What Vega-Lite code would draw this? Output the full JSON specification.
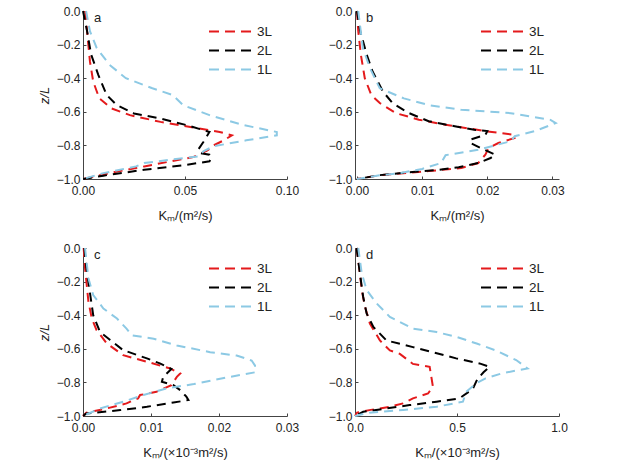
{
  "$schema": "https://vega.github.io/schema/vega-lite/v6.json",
  "padding": {"left": 38, "top": 5, "right": 5, "bottom": 5},
  "bounds": "flush",
  "columns": 2,
  "spacing": {"row": 69, "column": 68},
  "datasets": {
    "a": [
      {"s": "3L", "z": 0, "k": 0.001}, {"s": "3L", "z": -0.12, "k": 0.002}, {"s": "3L", "z": -0.3, "k": 0.0034},
      {"s": "3L", "z": -0.42, "k": 0.005}, {"s": "3L", "z": -0.52, "k": 0.008}, {"s": "3L", "z": -0.58, "k": 0.014},
      {"s": "3L", "z": -0.62, "k": 0.023}, {"s": "3L", "z": -0.66, "k": 0.038}, {"s": "3L", "z": -0.7, "k": 0.057},
      {"s": "3L", "z": -0.72, "k": 0.067}, {"s": "3L", "z": -0.74, "k": 0.073}, {"s": "3L", "z": -0.77, "k": 0.069},
      {"s": "3L", "z": -0.8, "k": 0.064}, {"s": "3L", "z": -0.83, "k": 0.061}, {"s": "3L", "z": -0.87, "k": 0.054},
      {"s": "3L", "z": -0.895, "k": 0.043}, {"s": "3L", "z": -0.925, "k": 0.03}, {"s": "3L", "z": -0.965, "k": 0.013},
      {"s": "3L", "z": -1, "k": 0},
      {"s": "2L", "z": 0, "k": 0}, {"s": "2L", "z": -0.12, "k": 0.002}, {"s": "2L", "z": -0.26, "k": 0.004},
      {"s": "2L", "z": -0.38, "k": 0.0075}, {"s": "2L", "z": -0.5, "k": 0.0116}, {"s": "2L", "z": -0.56, "k": 0.0165},
      {"s": "2L", "z": -0.61, "k": 0.025}, {"s": "2L", "z": -0.64, "k": 0.038}, {"s": "2L", "z": -0.68, "k": 0.051},
      {"s": "2L", "z": -0.72, "k": 0.062}, {"s": "2L", "z": -0.78, "k": 0.059}, {"s": "2L", "z": -0.825, "k": 0.0565},
      {"s": "2L", "z": -0.845, "k": 0.057}, {"s": "2L", "z": -0.855, "k": 0.062}, {"s": "2L", "z": -0.875, "k": 0.063},
      {"s": "2L", "z": -0.895, "k": 0.062}, {"s": "2L", "z": -0.915, "k": 0.051}, {"s": "2L", "z": -0.945, "k": 0.03},
      {"s": "2L", "z": -0.98, "k": 0.01}, {"s": "2L", "z": -1, "k": 0},
      {"s": "1L", "z": 0, "k": 0.0015}, {"s": "1L", "z": -0.12, "k": 0.0034}, {"s": "1L", "z": -0.22, "k": 0.0067},
      {"s": "1L", "z": -0.32, "k": 0.013}, {"s": "1L", "z": -0.4, "k": 0.021}, {"s": "1L", "z": -0.46, "k": 0.034},
      {"s": "1L", "z": -0.5, "k": 0.044}, {"s": "1L", "z": -0.56, "k": 0.049}, {"s": "1L", "z": -0.62, "k": 0.062},
      {"s": "1L", "z": -0.68, "k": 0.079}, {"s": "1L", "z": -0.72, "k": 0.095}, {"s": "1L", "z": -0.74, "k": 0.095},
      {"s": "1L", "z": -0.77, "k": 0.08}, {"s": "1L", "z": -0.805, "k": 0.064}, {"s": "1L", "z": -0.835, "k": 0.059},
      {"s": "1L", "z": -0.865, "k": 0.057}, {"s": "1L", "z": -0.885, "k": 0.043}, {"s": "1L", "z": -0.905, "k": 0.03},
      {"s": "1L", "z": -0.925, "k": 0.026}, {"s": "1L", "z": -0.965, "k": 0.01}, {"s": "1L", "z": -1, "k": 0}
    ],
    "b": [
      {"s": "3L", "z": 0, "k": 0}, {"s": "3L", "z": -0.12, "k": 0.0002}, {"s": "3L", "z": -0.26, "k": 0.0006},
      {"s": "3L", "z": -0.4, "k": 0.0012}, {"s": "3L", "z": -0.5, "k": 0.0022}, {"s": "3L", "z": -0.548, "k": 0.0035},
      {"s": "3L", "z": -0.608, "k": 0.006}, {"s": "3L", "z": -0.647, "k": 0.0095}, {"s": "3L", "z": -0.677, "k": 0.0136},
      {"s": "3L", "z": -0.715, "k": 0.0197}, {"s": "3L", "z": -0.737, "k": 0.0242}, {"s": "3L", "z": -0.756, "k": 0.0242},
      {"s": "3L", "z": -0.786, "k": 0.0217}, {"s": "3L", "z": -0.816, "k": 0.0202}, {"s": "3L", "z": -0.855, "k": 0.0197},
      {"s": "3L", "z": -0.905, "k": 0.0186}, {"s": "3L", "z": -0.935, "k": 0.016}, {"s": "3L", "z": -0.953, "k": 0.011},
      {"s": "3L", "z": -0.97, "k": 0.006}, {"s": "3L", "z": -0.978, "k": 0.0035}, {"s": "3L", "z": -1, "k": 0},
      {"s": "2L", "z": 0, "k": 0}, {"s": "2L", "z": -0.12, "k": 0.0005}, {"s": "2L", "z": -0.26, "k": 0.0015},
      {"s": "2L", "z": -0.36, "k": 0.0024}, {"s": "2L", "z": -0.48, "k": 0.004}, {"s": "2L", "z": -0.55, "k": 0.0055},
      {"s": "2L", "z": -0.608, "k": 0.008}, {"s": "2L", "z": -0.656, "k": 0.011}, {"s": "2L", "z": -0.686, "k": 0.015},
      {"s": "2L", "z": -0.707, "k": 0.018}, {"s": "2L", "z": -0.715, "k": 0.02}, {"s": "2L", "z": -0.737, "k": 0.0197},
      {"s": "2L", "z": -0.766, "k": 0.0174}, {"s": "2L", "z": -0.785, "k": 0.0174}, {"s": "2L", "z": -0.816, "k": 0.019},
      {"s": "2L", "z": -0.855, "k": 0.0212}, {"s": "2L", "z": -0.875, "k": 0.0205}, {"s": "2L", "z": -0.905, "k": 0.0186},
      {"s": "2L", "z": -0.93, "k": 0.0156}, {"s": "2L", "z": -0.945, "k": 0.0126}, {"s": "2L", "z": -0.958, "k": 0.0085},
      {"s": "2L", "z": -0.977, "k": 0.0035}, {"s": "2L", "z": -1, "k": 0},
      {"s": "1L", "z": 0, "k": 0.0002}, {"s": "1L", "z": -0.22, "k": 0.0009}, {"s": "1L", "z": -0.34, "k": 0.002},
      {"s": "1L", "z": -0.46, "k": 0.0035}, {"s": "1L", "z": -0.52, "k": 0.0072}, {"s": "1L", "z": -0.56, "k": 0.011},
      {"s": "1L", "z": -0.588, "k": 0.016}, {"s": "1L", "z": -0.608, "k": 0.0236}, {"s": "1L", "z": -0.648, "k": 0.0297},
      {"s": "1L", "z": -0.667, "k": 0.0305}, {"s": "1L", "z": -0.715, "k": 0.0273}, {"s": "1L", "z": -0.745, "k": 0.0242},
      {"s": "1L", "z": -0.775, "k": 0.0236}, {"s": "1L", "z": -0.826, "k": 0.0186}, {"s": "1L", "z": -0.858, "k": 0.0136},
      {"s": "1L", "z": -0.905, "k": 0.0129}, {"s": "1L", "z": -0.94, "k": 0.01}, {"s": "1L", "z": -0.965, "k": 0.0065},
      {"s": "1L", "z": -0.978, "k": 0.0035}, {"s": "1L", "z": -1, "k": 0}
    ],
    "c": [
      {"s": "3L", "z": 0, "k": 0.0001}, {"s": "3L", "z": -0.12, "k": 0.0003}, {"s": "3L", "z": -0.32, "k": 0.0008},
      {"s": "3L", "z": -0.42, "k": 0.0013}, {"s": "3L", "z": -0.489, "k": 0.002}, {"s": "3L", "z": -0.568, "k": 0.0035},
      {"s": "3L", "z": -0.638, "k": 0.0059}, {"s": "3L", "z": -0.677, "k": 0.0094}, {"s": "3L", "z": -0.717, "k": 0.0128},
      {"s": "3L", "z": -0.747, "k": 0.0143}, {"s": "3L", "z": -0.767, "k": 0.0138}, {"s": "3L", "z": -0.816, "k": 0.013},
      {"s": "3L", "z": -0.856, "k": 0.0108}, {"s": "3L", "z": -0.875, "k": 0.0084}, {"s": "3L", "z": -0.895, "k": 0.0081},
      {"s": "3L", "z": -0.925, "k": 0.0064}, {"s": "3L", "z": -0.955, "k": 0.0035}, {"s": "3L", "z": -0.98, "k": 0.0005},
      {"s": "3L", "z": -1, "k": 0},
      {"s": "2L", "z": 0, "k": 0.0002}, {"s": "2L", "z": -0.12, "k": 0.0005}, {"s": "2L", "z": -0.26, "k": 0.001},
      {"s": "2L", "z": -0.4, "k": 0.0015}, {"s": "2L", "z": -0.5, "k": 0.0025}, {"s": "2L", "z": -0.548, "k": 0.004},
      {"s": "2L", "z": -0.608, "k": 0.0059}, {"s": "2L", "z": -0.657, "k": 0.0094}, {"s": "2L", "z": -0.687, "k": 0.0113},
      {"s": "2L", "z": -0.72, "k": 0.013}, {"s": "2L", "z": -0.767, "k": 0.0118}, {"s": "2L", "z": -0.796, "k": 0.0116},
      {"s": "2L", "z": -0.816, "k": 0.0133}, {"s": "2L", "z": -0.846, "k": 0.0143}, {"s": "2L", "z": -0.885, "k": 0.0152},
      {"s": "2L", "z": -0.905, "k": 0.0155}, {"s": "2L", "z": -0.92, "k": 0.0133}, {"s": "2L", "z": -0.945, "k": 0.0094},
      {"s": "2L", "z": -0.965, "k": 0.0055}, {"s": "2L", "z": -0.985, "k": 0.0005}, {"s": "2L", "z": -1, "k": 0},
      {"s": "1L", "z": 0, "k": 0.0003}, {"s": "1L", "z": -0.18, "k": 0.0008}, {"s": "1L", "z": -0.28, "k": 0.0015},
      {"s": "1L", "z": -0.36, "k": 0.003}, {"s": "1L", "z": -0.42, "k": 0.005}, {"s": "1L", "z": -0.48, "k": 0.0064},
      {"s": "1L", "z": -0.52, "k": 0.0072}, {"s": "1L", "z": -0.54, "k": 0.0104}, {"s": "1L", "z": -0.58, "k": 0.0138},
      {"s": "1L", "z": -0.62, "k": 0.0187}, {"s": "1L", "z": -0.64, "k": 0.0226}, {"s": "1L", "z": -0.67, "k": 0.0248},
      {"s": "1L", "z": -0.7, "k": 0.0253}, {"s": "1L", "z": -0.74, "k": 0.0253}, {"s": "1L", "z": -0.77, "k": 0.0212},
      {"s": "1L", "z": -0.81, "k": 0.0163}, {"s": "1L", "z": -0.835, "k": 0.0123}, {"s": "1L", "z": -0.875, "k": 0.0089},
      {"s": "1L", "z": -0.915, "k": 0.0059}, {"s": "1L", "z": -0.955, "k": 0.0025}, {"s": "1L", "z": -1, "k": 0}
    ],
    "d": [
      {"s": "3L", "z": 0, "k": 0.008}, {"s": "3L", "z": -0.15, "k": 0.024}, {"s": "3L", "z": -0.25, "k": 0.033},
      {"s": "3L", "z": -0.35, "k": 0.049}, {"s": "3L", "z": -0.45, "k": 0.073}, {"s": "3L", "z": -0.55, "k": 0.122},
      {"s": "3L", "z": -0.61, "k": 0.171}, {"s": "3L", "z": -0.63, "k": 0.22}, {"s": "3L", "z": -0.69, "k": 0.284},
      {"s": "3L", "z": -0.707, "k": 0.366}, {"s": "3L", "z": -0.766, "k": 0.374}, {"s": "3L", "z": -0.826, "k": 0.382},
      {"s": "3L", "z": -0.866, "k": 0.358}, {"s": "3L", "z": -0.895, "k": 0.284}, {"s": "3L", "z": -0.925, "k": 0.236},
      {"s": "3L", "z": -0.945, "k": 0.171}, {"s": "3L", "z": -0.965, "k": 0.07}, {"s": "3L", "z": -0.98, "k": 0.01},
      {"s": "3L", "z": -1, "k": 0},
      {"s": "2L", "z": 0, "k": 0.008}, {"s": "2L", "z": -0.15, "k": 0.024}, {"s": "2L", "z": -0.29, "k": 0.04},
      {"s": "2L", "z": -0.39, "k": 0.057}, {"s": "2L", "z": -0.47, "k": 0.09}, {"s": "2L", "z": -0.55, "k": 0.154},
      {"s": "2L", "z": -0.59, "k": 0.284}, {"s": "2L", "z": -0.62, "k": 0.38}, {"s": "2L", "z": -0.657, "k": 0.496},
      {"s": "2L", "z": -0.687, "k": 0.61}, {"s": "2L", "z": -0.707, "k": 0.66}, {"s": "2L", "z": -0.74, "k": 0.63},
      {"s": "2L", "z": -0.78, "k": 0.6}, {"s": "2L", "z": -0.84, "k": 0.577}, {"s": "2L", "z": -0.895, "k": 0.512},
      {"s": "2L", "z": -0.915, "k": 0.4}, {"s": "2L", "z": -0.935, "k": 0.268}, {"s": "2L", "z": -0.955, "k": 0.154},
      {"s": "2L", "z": -0.975, "k": 0.04}, {"s": "2L", "z": -1, "k": 0},
      {"s": "1L", "z": 0, "k": 0.016}, {"s": "1L", "z": -0.15, "k": 0.033}, {"s": "1L", "z": -0.25, "k": 0.057},
      {"s": "1L", "z": -0.33, "k": 0.106}, {"s": "1L", "z": -0.41, "k": 0.171}, {"s": "1L", "z": -0.48, "k": 0.284},
      {"s": "1L", "z": -0.5, "k": 0.4}, {"s": "1L", "z": -0.53, "k": 0.5}, {"s": "1L", "z": -0.57, "k": 0.6},
      {"s": "1L", "z": -0.61, "k": 0.69}, {"s": "1L", "z": -0.667, "k": 0.79}, {"s": "1L", "z": -0.717, "k": 0.846},
      {"s": "1L", "z": -0.746, "k": 0.72}, {"s": "1L", "z": -0.776, "k": 0.64}, {"s": "1L", "z": -0.806, "k": 0.594},
      {"s": "1L", "z": -0.856, "k": 0.545}, {"s": "1L", "z": -0.915, "k": 0.529}, {"s": "1L", "z": -0.945, "k": 0.4},
      {"s": "1L", "z": -0.964, "k": 0.236}, {"s": "1L", "z": -0.98, "k": 0.07}, {"s": "1L", "z": -1, "k": 0}
    ]
  },
  "concat": [
    {
      "width": 204, "height": 168,
      "title": {"text": "a"},
      "data": {"name": "a"},
      "mark": {"type": "line", "strokeDash": [9, 6], "strokeWidth": 2},
      "encoding": {
        "x": {"field": "k", "type": "quantitative", "scale": {"domain": [0, 0.1], "nice": false},
              "axis": {"values": [0, 0.05, 0.1], "format": ".2f", "title": "Kₘ/(m²/s)"}},
        "y": {"field": "z", "type": "quantitative", "scale": {"domain": [-1, 0], "nice": false},
              "axis": {"values": [-1, -0.8, -0.6, -0.4, -0.2, 0], "format": ".1f", "title": "z/L"}},
        "color": {"field": "s", "type": "nominal", "scale": {"domain": ["3L", "2L", "1L"], "range": ["#e41a1c", "#000000", "#8cc9e4"]}},
        "order": {"field": "z", "sort": "descending"}
      }
    },
    {
      "width": 204, "height": 168,
      "title": {"text": "b"},
      "data": {"name": "b"},
      "mark": {"type": "line", "strokeDash": [9, 6], "strokeWidth": 2},
      "encoding": {
        "x": {"field": "k", "type": "quantitative", "scale": {"domain": [-0.0003, 0.031], "nice": false, "zero": false},
              "axis": {"values": [0, 0.01, 0.02, 0.03], "format": ".2f", "title": "Kₘ/(m²/s)"}},
        "y": {"field": "z", "type": "quantitative", "scale": {"domain": [-1, 0], "nice": false},
              "axis": {"values": [-1, -0.8, -0.6, -0.4, -0.2, 0], "format": ".1f", "title": null}},
        "color": {"field": "s", "type": "nominal", "scale": {"domain": ["3L", "2L", "1L"], "range": ["#e41a1c", "#000000", "#8cc9e4"]}},
        "order": {"field": "z", "sort": "descending"}
      }
    },
    {
      "width": 204, "height": 168,
      "title": {"text": "c"},
      "data": {"name": "c"},
      "mark": {"type": "line", "strokeDash": [9, 6], "strokeWidth": 2},
      "encoding": {
        "x": {"field": "k", "type": "quantitative", "scale": {"domain": [0, 0.03], "nice": false},
              "axis": {"values": [0, 0.01, 0.02, 0.03], "format": ".2f", "title": "Kₘ/(×10⁻³m²/s)"}},
        "y": {"field": "z", "type": "quantitative", "scale": {"domain": [-1, 0], "nice": false},
              "axis": {"values": [-1, -0.8, -0.6, -0.4, -0.2, 0], "format": ".1f", "title": "z/L"}},
        "color": {"field": "s", "type": "nominal", "scale": {"domain": ["3L", "2L", "1L"], "range": ["#e41a1c", "#000000", "#8cc9e4"]}},
        "order": {"field": "z", "sort": "descending"}
      }
    },
    {
      "width": 204, "height": 168,
      "title": {"text": "d"},
      "data": {"name": "d"},
      "mark": {"type": "line", "strokeDash": [9, 6], "strokeWidth": 2},
      "encoding": {
        "x": {"field": "k", "type": "quantitative", "scale": {"domain": [0, 1], "nice": false},
              "axis": {"values": [0, 0.5, 1], "format": ".1f", "title": "Kₘ/(×10⁻³m²/s)"}},
        "y": {"field": "z", "type": "quantitative", "scale": {"domain": [-1, 0], "nice": false},
              "axis": {"values": [-1, -0.8, -0.6, -0.4, -0.2, 0], "format": ".1f", "title": null}},
        "color": {"field": "s", "type": "nominal", "scale": {"domain": ["3L", "2L", "1L"], "range": ["#e41a1c", "#000000", "#8cc9e4"]}},
        "order": {"field": "z", "sort": "descending"}
      }
    }
  ],
  "resolve": {"scale": {"color": "independent"}, "legend": {"color": "independent"}},
  "config": {
    "font": "Liberation Sans",
    "view": {"stroke": null},
    "title": {"anchor": "start", "frame": "group", "offset": -20, "baseline": "alphabetic", "dx": 11,
              "fontSize": 13, "fontWeight": "normal", "color": "#222"},
    "axis": {"grid": false, "labelFontSize": 12, "labelColor": "#222", "labelFlush": false,
             "titleFontSize": 13, "titleFontWeight": "normal", "titleColor": "#222",
             "domainColor": "#444", "tickColor": "#444", "tickSize": -3},
    "axisX": {"labelPadding": 9, "titlePadding": 13},
    "axisY": {"labelPadding": 6, "titlePadding": 5, "titleFontStyle": "italic"},
    "legend": {"orient": "none", "legendX": 125, "legendY": 12, "title": null, "rowPadding": 2, "clipHeight": 17,
               "symbolType": "stroke", "symbolSize": 2025, "symbolStrokeWidth": 2, "symbolDash": [10, 6],
               "labelFontSize": 13.5, "labelColor": "#222", "labelOffset": 2}
  }
}
